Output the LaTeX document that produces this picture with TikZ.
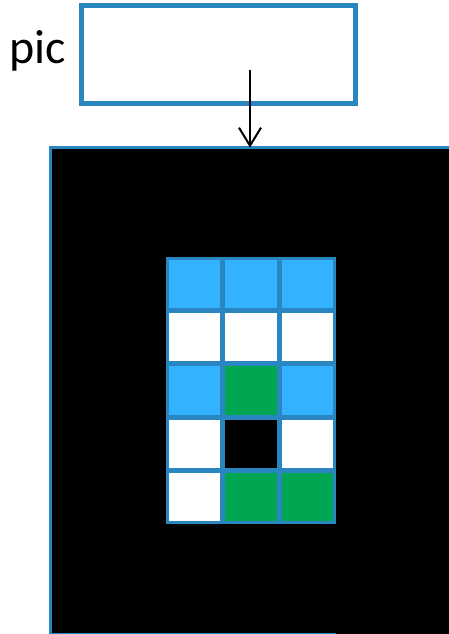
\documentclass[tikz,border=0pt]{standalone}
\usepackage{fontspec}
\setmainfont{Carlito}
\usetikzlibrary{arrows.meta, positioning}
\definecolor{edgeblue}{RGB}{41,134,192}
\definecolor{cellblue}{RGB}{51,178,255}
\definecolor{cellgreen}{RGB}{0,166,81}
\tikzstyle{arrow} = [line width=1pt,-{Straight Barb[length=9pt,width=11pt,line width=1pt]}]
\tikzstyle{picbox} = [rectangle, draw=edgeblue, line width=2.2pt, fill=white, minimum width=137pt, minimum height=49pt]
\tikzstyle{canvas} = [rectangle, fill=black, minimum width=199pt, minimum height=243pt, inner sep=0pt]
\tikzstyle{cell} = [rectangle, minimum width=25.65pt, minimum height=24.1pt, inner sep=0pt]

\begin{document}
\begin{tikzpicture}[x=0.5pt, y=-0.5pt]
\useasboundingbox (0,0) rectangle (449,634);

% Input box
\node (box) [picbox] at (218.5,54.5) {};
\node (label) [left=3pt of box, font=\fontsize{24}{29}\selectfont, yshift=2pt] {pic};
\coordinate (start) at (250,70);

% Canvas
\node (canvas) [canvas] at (250,391) {};
\draw [edgeblue, line width=1.5pt] (canvas.north east) -- (canvas.north west) -- (canvas.south west);

% Grid
\node (grid) [rectangle, fill=edgeblue, minimum width=85pt, minimum height=133.5pt, inner sep=0pt] at (251,390.5) {};
\draw [edgeblue, line width=1.5pt] (canvas.south west) -- (canvas.south -| grid.east);
\foreach \r/\colors in {1/{cellblue,cellblue,cellblue},
                        2/{white,white,white},
                        3/{cellblue,cellgreen,cellblue},
                        4/{white,black,white},
                        5/{white,cellgreen,cellgreen}} {
  \foreach \c [count=\k] in \colors {
    \node (cell-\r-\k) [cell, fill=\c] at ({194.65+(\k-1)*56.3},{284.1+(\r-1)*53.2}) {};
  }
}

% Flow
\draw [arrow] (start) -- (canvas.north);

\end{tikzpicture}
\end{document}
